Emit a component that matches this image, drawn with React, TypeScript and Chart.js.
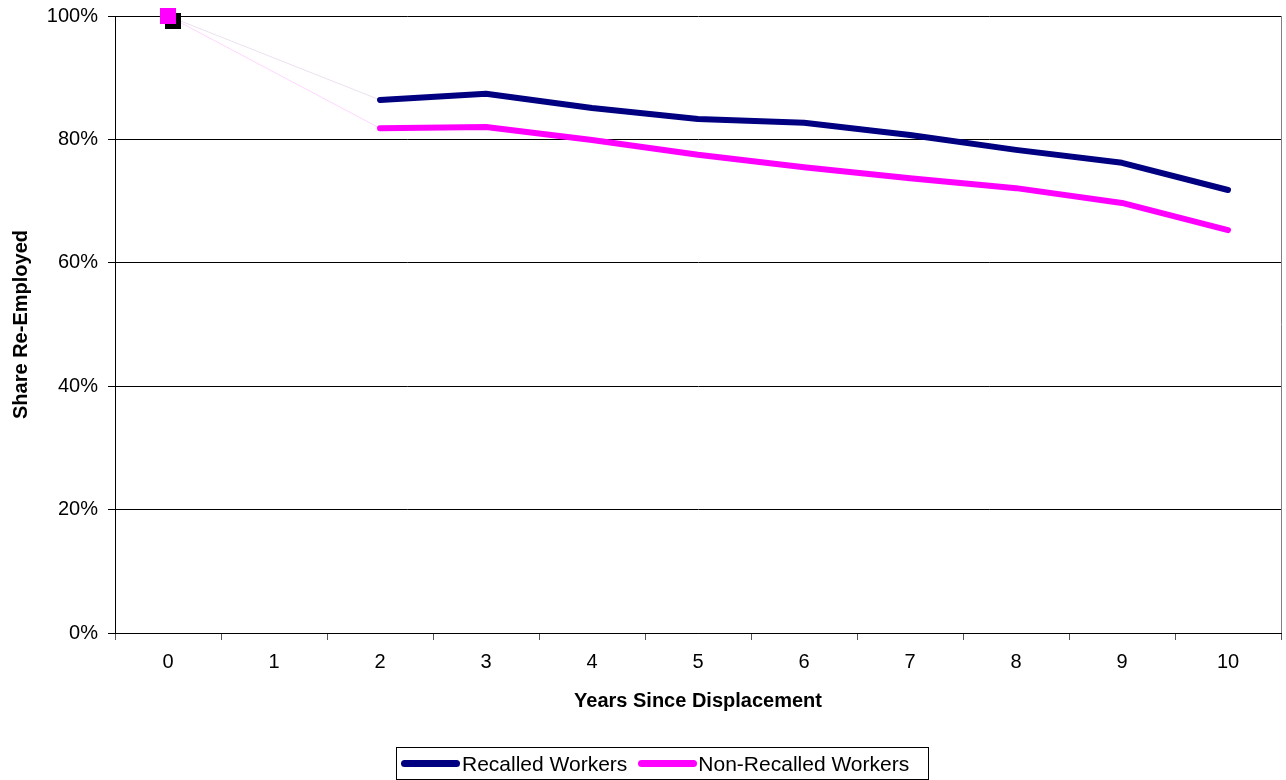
import React, { useEffect, useRef } from "react";
import Chart from "chart.js/auto";

const years = ["0", "1", "2", "3", "4", "5", "6", "7", "8", "9", "10"];
const recalled = [100, null, 86.4, 87.4, 85.1, 83.3, 82.7, 80.7, 78.3, 76.2, 71.8];
const nonRecalled = [100, null, 81.8, 82.0, 79.9, 77.5, 75.5, 73.7, 72.1, 69.7, 65.3];
const yTicks = [0, 20, 40, 60, 80, 100];

const FONT = "'Liberation Sans', Arial, sans-serif";
const NAVY = "#000080";
const MAGENTA = "#FF00FF";

// magenta square marker with Excel-style black drop shadow
const makeMarker = () => {
  const c = document.createElement("canvas");
  c.width = 32;
  c.height = 32;
  const g = c.getContext("2d");
  if (g) {
    g.fillStyle = "#000";
    g.fillRect(13, 13, 16, 16);
    g.fillStyle = MAGENTA;
    g.fillRect(8, 8, 16, 16);
  }
  return c;
};

const rightBorder = {
  id: "rightBorder",
  afterDraw(chart: any) {
    const { ctx, chartArea } = chart;
    ctx.save();
    ctx.strokeStyle = "#808080";
    ctx.lineWidth = 1;
    ctx.beginPath();
    ctx.moveTo(chartArea.right + 0.5, chartArea.top);
    ctx.lineTo(chartArea.right + 0.5, chartArea.bottom);
    ctx.stroke();
    ctx.restore();
  },
};

const noPad = (s: any) => {
  s.paddingLeft = 0;
  s.paddingRight = 0;
  s.paddingTop = 0;
  s.paddingBottom = 0;
};

const App: React.FC = () => {
  const canvasRef = useRef<HTMLCanvasElement | null>(null);
  const chartRef = useRef<Chart | null>(null);

  useEffect(() => {
    if (!canvasRef.current) return;
    const ctx = canvasRef.current.getContext("2d");
    if (!ctx) return;
    if (chartRef.current) chartRef.current.destroy();

    const marker = makeMarker();
    const firstOnly = (v: any, other: any) => (c: any) => (c.dataIndex === 0 ? v : other);
    // the gap segment from year 0 to year 2 is a faint hairline
    const gapSeg = (color: string) => ({
      borderColor: (c: any) => (c.p1DataIndex <= 2 ? color : undefined),
      borderWidth: (c: any) => (c.p1DataIndex <= 2 ? 1 : undefined),
    });

    chartRef.current = new Chart(ctx, {
      type: "line",
      data: {
        labels: years,
        datasets: [
          {
            label: "Recalled Workers",
            data: recalled,
            borderColor: NAVY,
            backgroundColor: NAVY,
            borderWidth: 6,
            borderCapStyle: "round",
            borderJoinStyle: "round",
            spanGaps: true,
            tension: 0,
            clip: false,
            order: 1,
            pointStyle: "rect",
            pointRadius: firstOnly(11.3, 0),
            pointBackgroundColor: "#000",
            pointBorderWidth: 0,
            segment: gapSeg("#ece0ee"),
          },
          {
            label: "Non-Recalled Workers",
            data: nonRecalled,
            borderColor: MAGENTA,
            backgroundColor: MAGENTA,
            borderWidth: 6,
            borderCapStyle: "round",
            borderJoinStyle: "round",
            spanGaps: true,
            tension: 0,
            clip: false,
            order: 0,
            pointStyle: firstOnly(marker, false),
            pointRadius: firstOnly(8, 0),
            segment: gapSeg("#ffd6ff"),
          },
        ],
      },
      options: {
        animation: false,
        responsive: true,
        maintainAspectRatio: false,
        layout: { autoPadding: false, padding: { top: 16, right: 5, left: 0, bottom: 0 } },
        plugins: {
          legend: { display: false },
          tooltip: { enabled: false },
        },
        scales: {
          x: {
            type: "category",
            offset: true,
            afterFit: (s: any) => {
              s.height = 147;
              noPad(s);
            },
            grid: {
              offset: true,
              drawOnChartArea: false,
              tickLength: 7,
              color: "#555",
            },
            border: { color: "#000", width: 1 },
            ticks: {
              color: "#000",
              padding: 10,
              maxRotation: 0,
              font: { family: FONT, size: 20 },
            },
            title: {
              display: true,
              text: "Years Since Displacement",
              color: "#000",
              font: { family: FONT, size: 20, weight: "bold" },
              padding: { top: 0, bottom: 67 },
            },
          },
          y: {
            min: 0,
            max: 100,
            afterFit: (s: any) => {
              s.width = 115;
              noPad(s);
            },
            afterBuildTicks: (s: any) => {
              s.ticks = yTicks.map((v) => ({ value: v }));
            },
            grid: { color: "#000", lineWidth: 1, tickLength: 7 },
            border: { color: "#000", width: 1 },
            ticks: {
              color: "#000",
              padding: 10,
              font: { family: FONT, size: 20 },
              callback: (v: any) => v + "%",
            },
            title: {
              display: true,
              text: "Share Re-Employed",
              color: "#000",
              font: { family: FONT, size: 20, weight: "bold" },
              padding: { top: 9, bottom: 0 },
            },
          },
        },
      },
      plugins: [rightBorder],
    } as any);

    return () => {
      if (chartRef.current) {
        chartRef.current.destroy();
        chartRef.current = null;
      }
    };
  }, []);

  const swatch = (color: string) => (
    <span
      style={{
        display: "inline-block",
        width: 59,
        height: 7,
        borderRadius: 3.5,
        background: color,
      }}
    />
  );

  return (
    <div style={{ position: "absolute", left: 0, top: 0, width: 1286, height: 780, background: "#fff" }}>
      <canvas ref={canvasRef}></canvas>
      <div
        style={{
          position: "absolute",
          left: 396,
          top: 747,
          width: 533,
          height: 33,
          boxSizing: "border-box",
          border: "1px solid #000",
          display: "flex",
          alignItems: "center",
          paddingLeft: 4,
          fontFamily: FONT,
          fontSize: 21,
          color: "#000",
          whiteSpace: "nowrap",
        }}
      >
        {swatch(NAVY)}
        <span style={{ marginLeft: 2 }}>Recalled Workers</span>
        <span style={{ marginLeft: 11, display: "inline-flex" }}>{swatch(MAGENTA)}</span>
        <span style={{ marginLeft: 1 }}>Non-Recalled Workers</span>
      </div>
    </div>
  );
};

export default App;
